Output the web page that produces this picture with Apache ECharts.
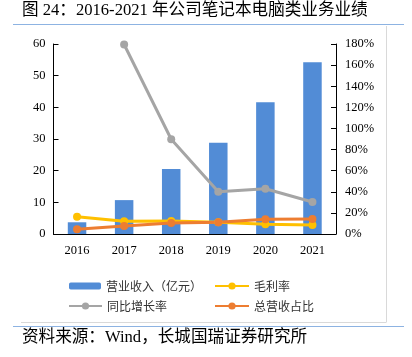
<!DOCTYPE html>
<html><head><meta charset="utf-8">
<script src="https://cdn.jsdelivr.net/npm/echarts@6/dist/echarts.min.js"></script>
<style>html,body{margin:0;padding:0;background:#fff}#c{width:412px;height:357px}</style>
</head><body><div id="c"></div>
<script>
const categories = ['2016','2017','2018','2019','2020','2021'];
const revenue = [3.7, 10.7, 20.5, 28.8, 41.6, 54.2];
const grossMargin = [16.4, 12.0, 12.2, 11.1, 9.2, 8.5];
const yoyGrowth = [null, 179.5, 89.8, 40.1, 42.9, 30.3];
const revenueShare = [4.5, 7.6, 10.4, 11.1, 13.9, 14.2];
const leftTicks = {min: 0, max: 60, interval: 10};
const rightTicks = {min: 0, max: 180, interval: 20};

const serif = '"Liberation Serif", "Noto Sans CJK SC", serif';
const cjk = '"Noto Sans CJK SC", sans-serif';
const chart = echarts.init(document.getElementById('c'));
const lineSeries = (name, data, color) => ({
  name, type: 'line', yAxisIndex: 1, data, clip: false,
  symbol: 'circle', symbolSize: 8,
  lineStyle: {color, width: 3}, itemStyle: {color},
  emphasis: {disabled: true}
});
const legendText = {fontFamily: cjk, fontSize: 12, color: '#333'};
chart.setOption({
  animation: false,
  grid: {left: 53.5, right: 76, top: 44, bottom: 123},
  graphic: [
    {type: 'text', left: 22, top: 2, style: {text: '图 24：2016-2021 年公司笔记本电脑类业务业绩', font: '16.6px ' + serif, fill: '#000'}},
    {type: 'line', shape: {x1: 13, y1: 24.5, x2: 404, y2: 24.5}, style: {stroke: '#8DB3E2', lineWidth: 1.2}},
    {type: 'line', shape: {x1: 386.5, y1: 26, x2: 386.5, y2: 322}, style: {stroke: '#D9D9D9', lineWidth: 1}},
    {type: 'line', shape: {x1: 21, y1: 322.5, x2: 386.5, y2: 322.5}, style: {stroke: '#D9D9D9', lineWidth: 1}},
    {type: 'line', shape: {x1: 13, y1: 326.5, x2: 404, y2: 326.5}, style: {stroke: '#8DB3E2', lineWidth: 1.2}},
    {type: 'text', left: 22, top: 329, style: {text: '资料来源：Wind，长城国瑞证券研究所', font: '16.6px ' + serif, fill: '#000'}}
  ],
  legend: [
    {data: ['营业收入（亿元）'], left: 64, top: 275, itemWidth: 32, itemHeight: 7, itemGap: 0, textStyle: legendText, selectedMode: false},
    {data: ['毛利率'], left: 209, top: 275, itemWidth: 34, itemHeight: 9, textStyle: legendText, selectedMode: false},
    {data: ['同比增长率'], left: 63, top: 295, itemWidth: 33, itemHeight: 9, textStyle: legendText, selectedMode: false},
    {data: ['总营收占比'], left: 209, top: 295, itemWidth: 34, itemHeight: 9, textStyle: legendText, selectedMode: false}
  ],
  xAxis: {
    type: 'category', data: categories,
    axisLine: {lineStyle: {color: '#000', width: 1}},
    axisTick: {show: false},
    axisLabel: {color: '#000', fontFamily: serif, fontSize: 12.5, margin: 10}
  },
  yAxis: [
    {type: 'value', min: leftTicks.min, max: leftTicks.max, interval: leftTicks.interval,
     axisLine: {show: true, lineStyle: {color: '#000'}},
     axisTick: {show: true, inside: true, length: 5, lineStyle: {color: '#000'}},
     axisLabel: {color: '#000', fontFamily: serif, fontSize: 12.5, margin: 8},
     splitLine: {show: false}},
    {type: 'value', min: rightTicks.min, max: rightTicks.max, interval: rightTicks.interval,
     axisLine: {show: true, lineStyle: {color: '#000'}},
     axisTick: {show: true, inside: true, length: 5, lineStyle: {color: '#000'}},
     axisLabel: {color: '#000', fontFamily: serif, fontSize: 12.5, margin: 9, formatter: '{value}%'},
     splitLine: {show: false}}
  ],
  series: [
    {name: '营业收入（亿元）', type: 'bar', data: revenue, barWidth: 18.5,
     itemStyle: {color: '#528CD6'}, emphasis: {disabled: true}},
    lineSeries('毛利率', grossMargin, '#FFC000'),
    lineSeries('同比增长率', yoyGrowth, '#A5A5A5'),
    lineSeries('总营收占比', revenueShare, '#ED7D31')
  ]
});
</script></body></html>
